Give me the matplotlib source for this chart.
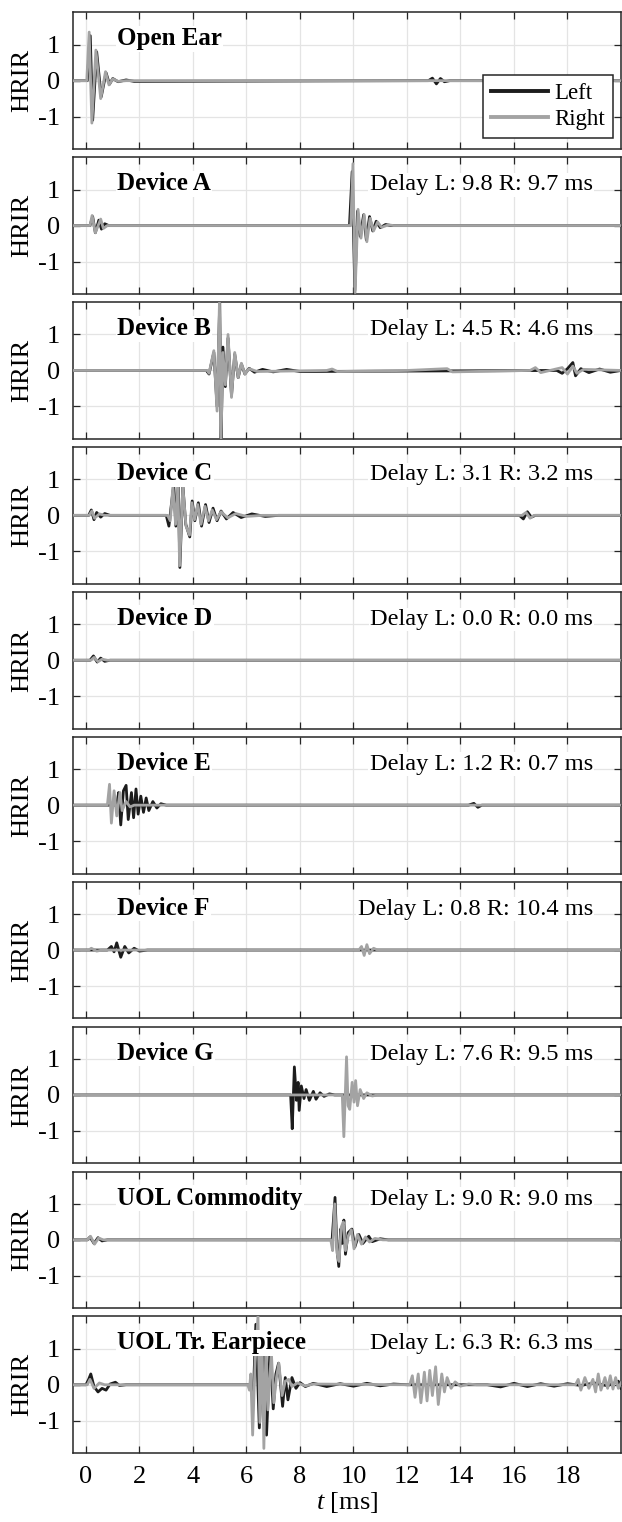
import matplotlib
matplotlib.use('Agg')
import matplotlib.pyplot as plt
import numpy as np

plt.rcParams['font.family'] = ['Liberation Serif', 'DejaVu Serif']
plt.rcParams['mathtext.fontset'] = 'custom'
plt.rcParams['mathtext.it'] = 'Liberation Serif:italic'
plt.rcParams['mathtext.rm'] = 'Liberation Serif'

# panel titles and delay annotations
titles = ['Open Ear', 'Device A', 'Device B', 'Device C', 'Device D', 'Device E',
          'Device F', 'Device G', 'UOL Commodity', 'UOL Tr. Earpiece']
delays = [None, 'Delay L: 9.8 R: 9.7 ms', 'Delay L: 4.5 R: 4.6 ms', 'Delay L: 3.1 R: 3.2 ms',
          'Delay L: 0.0 R: 0.0 ms', 'Delay L: 1.2 R: 0.7 ms', 'Delay L: 0.8 R: 10.4 ms',
          'Delay L: 7.6 R: 9.5 ms', 'Delay L: 9.0 R: 9.0 ms', 'Delay L: 6.3 R: 6.3 ms']

# waveform vertices (t in ms, HRIR)
open_ear_left = [(-0.5, 0), (0.05, 0), (0.16, 1.25), (0.25, -1.1), (0.4, 0.8), (0.57, -0.45),
                 (0.75, 0.22), (0.88, -0.1), (1.0, 0.06), (1.2, -0.03), (1.5, 0.02), (1.8, -0.02),
                 (12.8, 0), (12.95, 0.07), (13.1, -0.09), (13.25, 0.06), (13.4, -0.03), (13.6, 0), (20, 0)]
open_ear_right = [(-0.5, 0), (0.03, 0), (0.12, 1.35), (0.22, -1.18), (0.37, 0.85), (0.55, -0.5),
                  (0.73, 0.25), (0.86, -0.12), (1.0, 0.05), (1.2, -0.02), (1.5, 0), (20, 0)]

device_a_left = [(-0.5, 0), (0.15, 0), (0.25, 0.25), (0.35, -0.2), (0.48, 0.15), (0.58, -0.1),
                 (0.7, 0.05), (0.85, 0), (9.85, 0), (9.95, 1.5), (10.05, -1.8), (10.15, 0.4),
                 (10.25, -0.3), (10.38, 0.3), (10.48, -0.4), (10.6, 0.25), (10.72, -0.15),
                 (10.85, 0.12), (11.0, -0.06), (11.2, 0.03), (11.4, 0), (20, 0)]
device_a_right = [(-0.5, 0), (0.15, 0), (0.23, 0.28), (0.35, -0.2), (0.55, 0.18), (0.65, -0.08),
                  (0.8, 0), (9.9, 0), (9.98, 1.72), (10.06, -1.86), (10.17, 0.45), (10.28, -0.35),
                  (10.4, 0.3), (10.5, -0.45), (10.62, 0.2), (10.75, -0.15), (10.9, 0.1),
                  (11.05, -0.05), (11.3, 0.02), (11.5, 0), (20, 0)]

device_b_left = [(-0.5, 0), (4.5, 0), (4.6, -0.1), (4.78, 0.5), (4.9, -1.0), (5.0, 1.9),
                 (5.05, -1.9), (5.12, 0.65), (5.21, -0.45), (5.31, 0.9), (5.44, -0.7), (5.56, 0.45),
                 (5.69, -0.2), (5.81, 0.18), (5.94, -0.1), (6.1, 0.06), (6.3, -0.05), (6.6, 0.03),
                 (7.0, -0.04), (7.5, 0.03), (8.0, -0.03), (17.6, 0), (17.8, -0.08), (18.0, 0.05),
                 (18.2, 0.22), (18.3, -0.15), (18.5, 0.05), (18.8, -0.06), (19.2, 0.04),
                 (19.6, -0.05), (20, 0)]
device_b_right = [(-0.5, 0), (4.55, 0), (4.6, -0.08), (4.78, 0.55), (4.9, -1.13), (4.99, 1.9),
                  (5.05, -1.9), (5.12, 0.5), (5.21, -0.4), (5.31, 1.0), (5.44, -0.75), (5.56, 0.5),
                  (5.69, -0.2), (5.81, 0.2), (5.94, -0.1), (6.1, 0.05), (6.4, -0.03), (9.0, 0),
                  (9.2, 0.04), (9.4, -0.03), (12, 0), (13.5, 0.05), (13.7, -0.04), (16.6, 0),
                  (16.8, 0.08), (17.0, -0.06), (17.8, 0.08), (18.0, -0.1), (18.2, 0.12),
                  (18.35, -0.08), (18.6, 0.03), (20, 0)]

device_c_left = [(-0.5, 0), (0.1, 0), (0.2, 0.15), (0.3, -0.12), (0.4, 0.08), (0.55, -0.05),
                 (0.7, 0.05), (0.9, 0), (3.0, 0), (3.1, -0.3), (3.2, 0.35), (3.28, 0.85),
                 (3.36, -0.3), (3.45, 0.85), (3.51, -1.45), (3.62, 0.85), (3.73, -0.25),
                 (3.88, -0.6), (3.97, 0.4), (4.07, -0.15), (4.2, 0.35), (4.32, -0.3), (4.47, 0.3),
                 (4.6, -0.2), (4.75, 0.2), (4.9, -0.15), (5.05, 0.12), (5.25, -0.1), (5.5, 0.08),
                 (5.8, -0.06), (6.2, 0.04), (6.7, -0.03), (7.2, 0), (16.2, 0), (16.35, -0.1),
                 (16.5, 0.1), (16.65, -0.05), (16.8, 0), (20, 0)]
device_c_right = [(-0.5, 0), (0.12, 0), (0.22, 0.12), (0.32, -0.08), (0.5, 0.04), (0.7, 0),
                  (3.05, 0), (3.15, -0.15), (3.25, 0.8), (3.35, -0.25), (3.44, 0.8), (3.5, -1.4),
                  (3.62, 0.8), (3.74, -0.3), (3.87, -0.55), (3.96, 0.35), (4.06, -0.12),
                  (4.18, 0.3), (4.3, -0.25), (4.45, 0.25), (4.58, -0.15), (4.72, 0.15),
                  (4.88, -0.12), (5.05, 0.1), (5.3, -0.07), (5.6, 0.05), (6.0, -0.03), (6.6, 0),
                  (16.3, 0), (16.45, 0.08), (16.6, -0.08), (16.75, 0), (20, 0)]

device_d_left = [(-0.5, 0), (0.15, 0), (0.28, 0.12), (0.42, -0.05), (0.55, 0.06), (0.7, -0.03),
                 (0.9, 0), (20, 0)]
device_d_right = [(-0.5, 0), (0.18, 0), (0.3, 0.08), (0.45, -0.04), (0.6, 0.03), (0.8, 0), (20, 0)]

device_e_left = [(-0.5, 0), (1.15, 0), (1.22, 0.35), (1.3, -0.55), (1.4, 0.4), (1.5, 0.55),
                 (1.58, -0.4), (1.7, 0.35), (1.78, -0.35), (1.87, 0.45), (1.95, -0.25),
                 (2.05, 0.25), (2.15, -0.2), (2.25, 0.2), (2.35, -0.15), (2.5, 0.1), (2.65, -0.08),
                 (2.8, 0.04), (3.0, 0), (14.3, 0), (14.5, 0.05), (14.65, -0.06), (14.8, 0), (20, 0)]
device_e_right = [(-0.5, 0), (0.8, 0), (0.88, 0.58), (0.95, -0.5), (1.05, 0.4), (1.15, -0.3),
                  (1.27, 0.35), (1.35, -0.15), (1.5, 0.1), (1.65, -0.05), (1.8, 0), (20, 0)]

device_f_left = [(-0.5, 0), (0.8, 0), (0.95, 0.1), (1.05, -0.05), (1.15, 0.2), (1.3, -0.2),
                 (1.45, 0.1), (1.6, -0.08), (1.8, 0.05), (2.0, -0.03), (2.3, 0), (20, 0)]
device_f_right = [(-0.5, 0), (0.1, 0), (0.2, 0.05), (0.4, -0.03), (0.6, 0), (10.2, 0),
                  (10.3, 0.1), (10.4, -0.15), (10.5, 0.15), (10.6, -0.1), (10.75, 0.05),
                  (10.9, 0), (20, 0)]

device_g_left = [(-0.5, 0), (7.65, 0), (7.71, -0.94), (7.79, 0.78), (7.87, -0.15), (7.93, 0.35),
                 (7.97, -0.43), (8.05, 0.25), (8.15, -0.1), (8.23, 0.15), (8.35, -0.15),
                 (8.5, 0.1), (8.6, -0.12), (8.75, 0.06), (8.9, -0.04), (9.1, 0.03), (9.3, 0), (20, 0)]
device_g_right = [(-0.5, 0), (9.58, 0), (9.64, -1.16), (9.74, 1.06), (9.8, -0.3), (9.86, -0.4),
                  (9.95, 0.35), (10.02, -0.2), (10.08, 0.4), (10.15, -0.3), (10.25, 0.15),
                  (10.38, -0.1), (10.5, 0.06), (10.7, -0.03), (10.9, 0), (20, 0)]

uol_commodity_left = [(-0.5, 0), (0.05, 0), (0.15, 0.08), (0.3, -0.1), (0.45, 0.06), (0.6, -0.03),
                      (0.8, 0), (9.2, 0), (9.31, 1.18), (9.38, -0.2), (9.45, -0.74), (9.52, 0.3),
                      (9.58, -0.1), (9.64, 0.55), (9.7, -0.4), (9.8, 0.2), (9.94, 0.3),
                      (10.05, -0.2), (10.2, 0.15), (10.35, -0.1), (10.57, 0.1), (10.7, -0.05),
                      (11.0, 0.03), (11.3, 0), (20, 0)]
uol_commodity_right = [(-0.5, 0), (0.05, 0), (0.17, 0.1), (0.32, -0.12), (0.47, 0.05), (0.65, 0),
                       (9.15, 0), (9.22, -0.3), (9.3, 1.0), (9.38, -0.35), (9.46, -0.6),
                       (9.54, 0.35), (9.62, 0.5), (9.7, -0.3), (9.8, 0.1), (9.92, 0.28),
                       (10.02, -0.25), (10.15, 0.15), (10.3, -0.12), (10.45, 0.08), (10.6, -0.06),
                       (10.8, 0.04), (11.1, 0), (20, 0)]

uol_earpiece_left = [(-0.5, 0), (0.0, 0), (0.1, 0.15), (0.18, 0.3), (0.3, -0.05), (0.45, -0.2),
                     (0.6, -0.1), (0.75, -0.15), (0.9, 0.02), (1.1, 0.07), (1.25, -0.02), (1.5, 0),
                     (6.1, 0), (6.2, -0.2), (6.25, -0.4), (6.35, 1.68), (6.48, -1.2), (6.62, 1.12),
                     (6.75, -1.4), (6.88, 1.0), (7.0, -0.67), (7.1, 0.3), (7.2, 0.6), (7.35, -0.6),
                     (7.45, 0.2), (7.55, -0.42), (7.7, 0.2), (7.85, -0.1), (8.0, 0.06), (8.2, -0.05),
                     (8.5, 0.04), (9.0, -0.05), (9.5, 0.03), (10.0, -0.04), (10.5, 0.04),
                     (11.0, -0.03), (11.5, 0.02), (12.0, 0), (15.0, 0), (15.5, -0.06), (16.0, 0.04),
                     (16.5, -0.05), (17.0, 0.03), (17.5, -0.04), (18.0, 0.03), (18.5, -0.02),
                     (19.0, 0.05), (19.5, -0.03), (19.9, 0.1), (20, -0.1)]
uol_earpiece_right = [(-0.5, 0), (0.05, 0), (0.15, 0.15), (0.3, -0.1), (0.5, 0.05), (0.7, 0),
                      (6.05, 0), (6.11, -0.15), (6.16, 0.3), (6.23, -1.4), (6.32, 0.6), (6.43, 1.9),
                      (6.5, -1.05), (6.58, 1.3), (6.65, -1.77), (6.73, 1.2), (6.8, -0.7),
                      (6.93, 0.9), (7.02, -0.5), (7.12, 0.2), (7.21, 0.6), (7.33, -0.3), (7.45, 0.1),
                      (7.58, 0.15), (7.7, -0.05), (7.9, 0.05), (8.2, -0.03), (8.5, 0.02), (12.1, 0),
                      (12.2, 0.25), (12.3, -0.35), (12.42, 0.3), (12.52, -0.5), (12.65, 0.35),
                      (12.75, -0.45), (12.85, 0.4), (12.95, -0.3), (13.07, 0.5), (13.17, -0.55),
                      (13.3, 0.3), (13.4, -0.2), (13.5, 0.2), (13.65, -0.1), (13.8, 0.08),
                      (14.0, -0.04), (14.3, 0.02), (14.6, 0), (18.3, 0), (18.4, 0.15), (18.5, -0.15),
                      (18.65, 0.2), (18.8, -0.1), (18.95, 0.15), (19.05, -0.2), (19.15, 0.3),
                      (19.25, -0.15), (19.4, 0.2), (19.5, -0.1), (19.6, 0.25), (19.7, -0.12),
                      (19.8, 0.2), (19.9, -0.1), (20, 0.05)]

lefts = [open_ear_left, device_a_left, device_b_left, device_c_left, device_d_left,
         device_e_left, device_f_left, device_g_left, uol_commodity_left, uol_earpiece_left]
rights = [open_ear_right, device_a_right, device_b_right, device_c_right, device_d_right,
          device_e_right, device_f_right, device_g_right, uol_commodity_right, uol_earpiece_right]

W, H = 622, 1522
fig = plt.figure(figsize=(W / 100, H / 100), dpi=100)

ax_left = 72.6 / W
ax_w = (621 - 72.6) / W
top0, step, ph = 12.3, 144.9, 136.7

col_l = '#1c1c1c'
col_r = '#a3a3a3'
fs = 18
dfs = 17.6
tfs = 19

for i in range(10):
    top = top0 + i * step
    ax = fig.add_axes([ax_left, 1 - (top + ph) / H, ax_w, ph / H])
    lt, lv = zip(*lefts[i])
    rt, rv = zip(*rights[i])
    ax.plot(lt, lv, color=col_l, lw=2.0, label='Left', zorder=3)
    ax.plot(rt, rv, color=col_r, lw=2.0, label='Right', zorder=4)
    ax.set_xlim(-0.5, 20)
    ax.set_ylim(-1.9, 1.9)
    ax.set_xticks(np.arange(0, 19, 2))
    ax.set_yticks([-1, 0, 1])
    ax.set_yticklabels(['-1', '0', '1'])
    ax.grid(True, color='#e4e4e4', lw=0.9)
    ax.set_axisbelow(True)
    ax.tick_params(direction='in', length=5, width=0.9, top=True, right=True,
                   labelsize=tfs, color='#262626', pad=9)
    for sp in ax.spines.values():
        sp.set_color('#262626')
        sp.set_linewidth(1.1)
    ax.set_ylabel('HRIR', fontsize=tfs)
    ax.yaxis.set_label_coords(-0.072, 0.5)
    ax.text(1.16, 0.98, titles[i], fontsize=fs, fontweight='bold', ha='left', va='baseline',
            zorder=6, bbox=dict(facecolor='white', edgecolor='none', pad=1))
    if delays[i]:
        ax.text(18.95, 0.98, delays[i], fontsize=dfs, ha='right', va='baseline', zorder=6,
                bbox=dict(facecolor='white', edgecolor='none', pad=1))
    if i < 9:
        ax.set_xticklabels([])
    else:
        ax.set_xlabel('$t$ [ms]', fontsize=tfs, labelpad=2)
    if i == 0:
        leg = ax.legend(loc='lower right', bbox_to_anchor=(0.985, 0.08), fontsize=16.5,
                        fancybox=False, edgecolor='#262626', framealpha=1,
                        handlelength=2.5, borderpad=0.35, labelspacing=0.2, handletextpad=0.25,
                        borderaxespad=0)
        leg.get_frame().set_linewidth(1.1)
        for ln in leg.get_lines():
            ln.set_linewidth(2.8)
        leg.set_zorder(10)

fig.savefig('out.png', dpi=100)
